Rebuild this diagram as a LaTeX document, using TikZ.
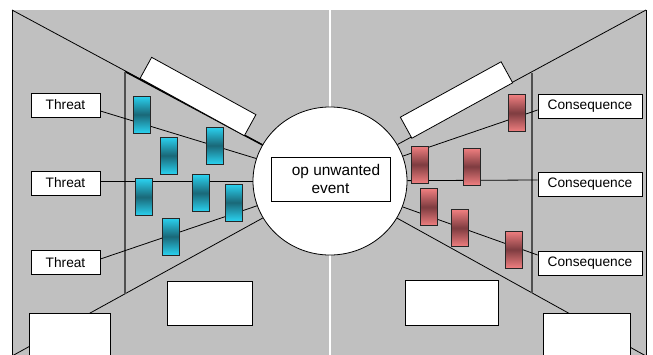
\documentclass[tikz,border=0pt]{standalone}
\usepackage{fontspec}
\setmainfont{Liberation Sans}
\usetikzlibrary{shapes.geometric}
\definecolor{panelgrey}{HTML}{C0C0C0}
\definecolor{cylight}{HTML}{2AD2F0}
\definecolor{cydark}{HTML}{1A6878}
\definecolor{rdlight}{HTML}{F07F80}
\definecolor{rddark}{HTML}{7E3C40}
\definecolor{edgegrey}{HTML}{505050}
\begin{document}
\begin{tikzpicture}[x=1pt,y=-1pt,
  labelbox/.style={draw=black, fill=white, line width=0.8pt, inner sep=0pt,
    minimum height=24pt, font=\fontsize{13.7}{16}\selectfont},
  plainbox/.style={draw=black, fill=white, line width=0.8pt, inner sep=0pt},
  barrier/.style={draw=black!85, line width=0.7pt, inner sep=0pt,
    minimum width=17pt, minimum height=37pt},
  cybar/.style={barrier, top color=cylight, bottom color=cylight, middle color=cydark},
  rdbar/.style={barrier, top color=rdlight, bottom color=rdlight, middle color=rddark},
  wire/.style={draw=black, line width=0.8pt},
  divider/.style={draw=edgegrey, line width=1.3pt}]
\clip (0,0) rectangle (653,354);
\fill[white] (0,0) rectangle (653,354);
\fill[panelgrey] (12,10) rectangle (646,360);
\fill[white] (329,10) rectangle (331,360);
\draw[black, line width=0.9pt] (12.5,10) -- (12.5,360);
\draw[black, line width=0.9pt] (646,10) -- (646,360);

% central event
\node[ellipse, draw=black, fill=white, line width=0.8pt, minimum width=154pt, minimum height=148pt, inner sep=0pt] (circ) at (330,181) {};
\node[plainbox, minimum width=119pt, minimum height=44pt, align=center,
  font=\fontsize{15.4}{18.5}\selectfont] (ev) at (330.5,179) {\hspace*{11pt}op unwanted\\event};

% threats and consequences
\node[labelbox, minimum width=69pt] (t1) at (65.5,105) {Threat};
\node[labelbox, minimum width=69pt] (t2) at (65.5,183) {Threat};
\node[labelbox, minimum width=69pt] (t3) at (65.5,262.5) {Threat};
\node[labelbox, minimum width=104pt] (q1) at (590,106) {Consequence};
\node[labelbox, minimum width=104pt] (q2) at (590,184) {Consequence};
\node[labelbox, minimum width=104pt] (q3) at (590,263.5) {Consequence};

% panel boundaries
\coordinate (ltop) at (12,10);
\coordinate (lbot) at (12,356);
\coordinate (rtop) at (646,10);
\coordinate (rbot) at (646,356);
\coordinate (lbend) at (125,71.5);
\coordinate (rbend) at (532,73);
\draw[wire] (ltop) -- (circ);
\draw[black, line width=1.5pt] (lbend) -- (circ);
\draw[wire] (lbot) -- (circ);
\draw[wire] (rtop) -- (circ);
\draw[wire] (rbot) -- (circ);
\draw[divider] (125,71.5) -- (125,294);
\draw[divider] (532,73) -- (532,293);

% connectors
\draw[wire] ([yshift=-6pt]t1.east) -- (circ);
\draw[wire] ([yshift=2pt]t2.east) -- (circ);
\draw[wire] ([yshift=3.5pt]t3.east) -- (circ);
\draw[wire] ([yshift=-4pt]q1.west) -- (circ);
\draw[wire] ([yshift=4pt]q2.west) -- (circ);
\draw[wire] ([yshift=8.5pt]q3.west) -- (circ);

% barriers (threat side)
\node[cybar] (b1) at (142,114.5) {};
\node[cybar] (b2) at (169,155.5) {};
\node[cybar] (b3) at (214.5,145.5) {};
\node[cybar] (b4) at (143.5,197) {};
\node[cybar] (b5) at (200.5,193) {};
\node[cybar] (b6) at (233.5,202.5) {};
\node[cybar] (b7) at (171,236.5) {};
% barriers (consequence side)
\node[rdbar] (r1) at (516.5,113) {};
\node[rdbar] (r2) at (420,164.5) {};
\node[rdbar] (r3) at (472,166.5) {};
\node[rdbar] (r4) at (429,207) {};
\node[rdbar] (r5) at (459.5,228) {};
\node[rdbar] (r6) at (513.5,249.5) {};

% empty white boxes
\node[plainbox, minimum width=119pt, minimum height=24pt, rotate=-28.8] (w1) at (198,96.5) {};
\node[plainbox, minimum width=115pt, minimum height=24pt, rotate=28.8] (w2) at (456.5,100) {};
\node[plainbox, minimum width=85pt, minimum height=44pt] (w3) at (209.5,303) {};
\node[plainbox, minimum width=93pt, minimum height=45pt] (w4) at (451.5,302.5) {};
\node[plainbox, minimum width=81pt, minimum height=50pt] (w5) at (69.5,338) {};
\node[plainbox, minimum width=87pt, minimum height=50pt] (w6) at (586.5,338) {};
\end{tikzpicture}
\end{document}
